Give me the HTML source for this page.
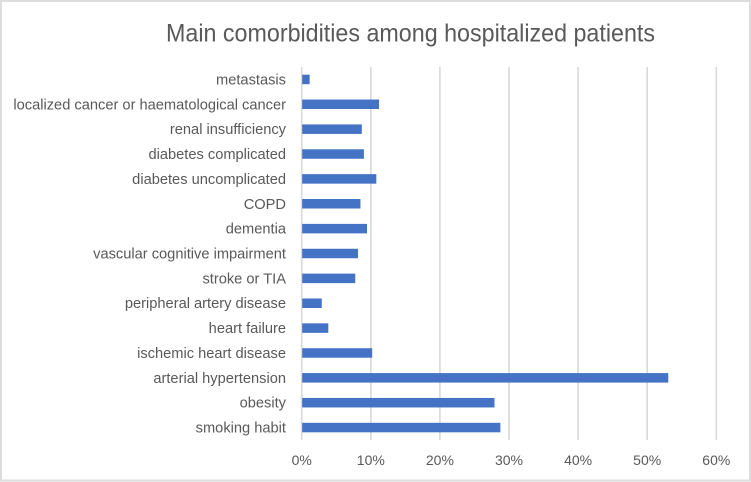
<!DOCTYPE html>
<html>
<head>
<meta charset="utf-8">
<style>
html,body{margin:0;padding:0;background:#fff;}
svg{display:block;font-family:"Liberation Sans",sans-serif;}
text{fill:#595959;}
</style>
</head>
<body>
<svg id="chart" width="751" height="482" viewBox="0 0 751 482" xmlns="http://www.w3.org/2000/svg">
<rect x="1" y="1" width="749" height="479.5" fill="#fff" stroke="#dcdcdc" stroke-width="2"/>
<text id="title" x="410.5" y="41.5" text-anchor="middle" font-size="25" textLength="489" lengthAdjust="spacingAndGlyphs">Main comorbidities among hospitalized patients</text>
<g id="grid"></g>
<g id="bars"></g>
<g id="ylabels"></g>
<g id="xlabels"></g>
</svg>
<script>
const categories = ["metastasis","localized cancer or haematological cancer","renal insufficiency","diabetes complicated","diabetes uncomplicated","COPD","dementia","vascular cognitive impairment","stroke or TIA","peripheral artery disease","heart failure","ischemic heart disease","arterial hypertension","obesity","smoking habit"];
const values = [1.15,11.2,8.7,9.0,10.8,8.5,9.45,8.15,7.75,2.9,3.85,10.2,53.05,27.9,28.75];
const ticks = [0,10,20,30,40,50,60];

const NS = "http://www.w3.org/2000/svg";
const plotLeft = 301.7, plotRight = 716.3, plotTop = 67, plotBottom = 440;
const xMax = ticks[ticks.length - 1];
function xScale(v){ return plotLeft + (v / xMax) * (plotRight - plotLeft); }
const band = (plotBottom - plotTop) / categories.length;
function yScale(i){ return plotTop + band * (i + 0.5); }
function make(tag, attrs, parent){
  const el = document.createElementNS(NS, tag);
  for (const k in attrs) el.setAttribute(k, attrs[k]);
  parent.appendChild(el);
  return el;
}
const grid = document.getElementById('grid');
const bars = document.getElementById('bars');
const ylabels = document.getElementById('ylabels');
const xlabels = document.getElementById('xlabels');

ticks.forEach(function(t){
  const line = make('line', {x1:xScale(t), x2:xScale(t), y1:plotTop, y2:plotBottom, stroke:'#d9d9d9', 'stroke-width':1.6}, grid);
  
  
  const label = make('text', {x:xScale(t), y:465, 'text-anchor':'middle', 'font-size':14}, xlabels);
  
  
  label.textContent = t + '%';
});

categories.forEach(function(c, i){
  const bar = make('rect', {x:xScale(0)+0.5, y:yScale(i)-4.75, width:Math.max(0, xScale(values[i])-xScale(0)-0.5), height:9.5, fill:'#4472c4'}, bars);
  
  
  const label = make('text', {x:286, y:yScale(i)+5, 'text-anchor':'end', 'font-size':14.65}, ylabels);
  
  
  label.textContent = c;
});
</script>
</body>
</html>
